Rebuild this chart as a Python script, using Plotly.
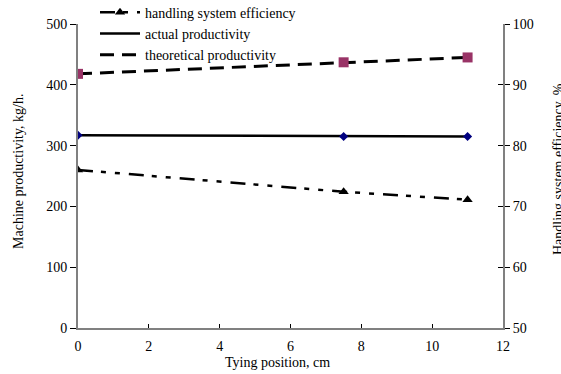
import plotly.graph_objects as go

tying_position = [0, 7.5, 11]
efficiency = [76.0, 72.4, 71.1]
actual_productivity = [317, 315, 315]
theoretical_productivity = [418, 437, 445]

FONT = "Liberation Serif"

fig = go.Figure()

fig.add_trace(go.Scatter(
    x=tying_position, y=efficiency, yaxis="y2", mode="lines+markers",
    name="handling system efficiency",
    line=dict(color="black", width=2.5, dash="15px,8px,5px,9px,5px,9px"),
    marker=dict(symbol="triangle-up", size=9, color="black"),
))
fig.add_trace(go.Scatter(
    x=tying_position, y=actual_productivity, mode="lines+markers",
    name="actual productivity", showlegend=False,
    line=dict(color="black", width=2.5),
    marker=dict(symbol="diamond", size=7, color="#000080"),
))
fig.add_trace(go.Scatter(
    x=tying_position, y=theoretical_productivity, mode="lines+markers",
    name="theoretical productivity", showlegend=False,
    line=dict(color="black", width=3, dash="14px,8px"),
    marker=dict(symbol="square", size=10, color="#993366"),
))
# legend-only entries (line samples without markers)
fig.add_trace(go.Scatter(x=[None], y=[None], mode="lines", name="actual productivity",
                         line=dict(color="black", width=2.5)))
fig.add_trace(go.Scatter(x=[None], y=[None], mode="lines", name="theoretical productivity",
                         line=dict(color="black", width=3, dash="14px,8px")))

axis_common = dict(showgrid=False, zeroline=False, showline=True, linecolor="#808080",
                   linewidth=2, tickcolor="black", tickwidth=1,
                   tickfont=dict(family=FONT, size=14, color="black"))

fig.update_layout(
    width=561, height=374,
    margin=dict(l=78, r=58, t=24, b=46, autoexpand=False),
    paper_bgcolor="white", plot_bgcolor="white",
    font=dict(family=FONT, size=14, color="black"),
    showlegend=True,
    legend=dict(x=0.04, y=1.09, xanchor="left", yanchor="top",
                bgcolor="rgba(0,0,0,0)", font=dict(family=FONT, size=14),
                tracegroupgap=0, itemwidth=40),
    xaxis=dict(range=[0, 12], dtick=2, ticks="inside", ticklen=4,
               ticklabelstandoff=4, **axis_common),
    yaxis=dict(range=[0, 500], dtick=100, ticks="outside", ticklen=6, **axis_common),
    yaxis2=dict(range=[50, 100], dtick=10, overlaying="y", side="right",
                ticks="outside", ticklen=5, anchor="x", **axis_common),
    yaxis3=dict(range=[50, 100], dtick=10, overlaying="y", side="right",
                ticks="inside", ticklen=5, showticklabels=False, showline=False,
                showgrid=False, zeroline=False, tickcolor="black", anchor="x"),
    annotations=[
        dict(text="Tying position, cm", x=277, y=362, showarrow=False,
             font=dict(family=FONT, size=14)),
        dict(text="Machine productivity, kg/h.", x=18, y=172, textangle=-90,
             showarrow=False, font=dict(family=FONT, size=14)),
        dict(text="Handling system efficiency, %.", x=558, y=168, textangle=-90,
             showarrow=False, font=dict(family=FONT, size=14)),
    ],
)
# convert pixel positions for annotations to paper coords
pw, ph = 561 - 78 - 58, 374 - 24 - 46
for a in fig.layout.annotations:
    px, py = a.x, a.y
    a.xref = "paper"; a.yref = "paper"
    a.x = (px - 78) / pw
    a.y = (374 - 46 - py) / ph
    a.xanchor = "center"; a.yanchor = "middle"

# dummy trace for the cross-tick axis
fig.add_trace(go.Scatter(x=[None], y=[None], yaxis="y3", showlegend=False))

fig.write_html("out.html")
